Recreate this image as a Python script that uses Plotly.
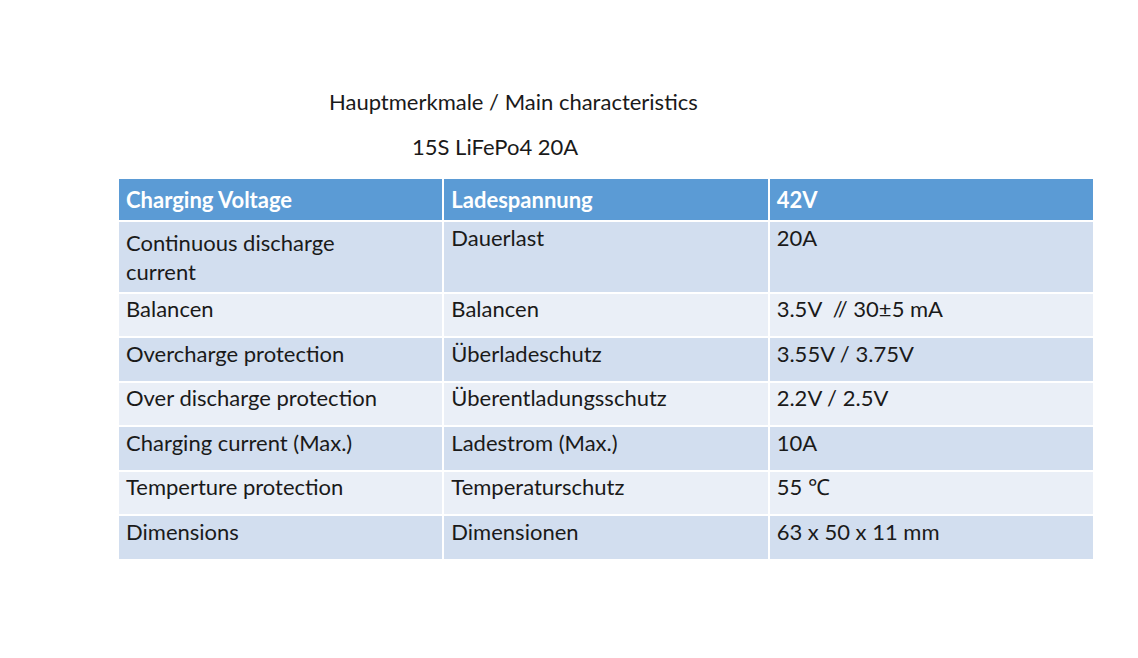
import plotly.graph_objects as go

header = ["Charging Voltage", "Ladespannung", "42V"]
col_en = ["Continuous discharge<br>current", "Balancen", "Overcharge protection",
          "Over discharge protection", "Charging current (Max.)",
          "Temperture protection", "Dimensions"]
col_de = ["Dauerlast", "Balancen", "Überladeschutz", "Überentladungsschutz",
          "Ladestrom (Max.)", "Temperaturschutz", "Dimensionen"]
col_val = ["20A", "3.5V  // 30±5 mA", "3.55V / 3.75V", "2.2V / 2.5V",
           "10A", "55 ℃", "63 x 50 x 11 mm"]

row_colors = ["#D2DEEF" if i % 2 == 0 else "#EAEFF7" for i in range(len(col_en))]
FONT = "Lato, Open Sans, sans-serif"

fig = go.Figure(go.Table(
    domain=dict(x=[110 / 1138, 1086 / 1138], y=[0, 1 - 170 / 658]),
    columnwidth=[1, 1, 1],
    header=dict(
        values=[f"<b>{h}</b>" for h in header],
        fill_color="#5B9BD5",
        line=dict(color="white", width=2),
        font=dict(family=FONT, size=22, color="white"),
        align="left", height=42,
    ),
    cells=dict(
        values=[col_en, col_de, col_val],
        fill_color=[row_colors] * 3,
        line=dict(color="white", width=2),
        font=dict(family=FONT, size=22, color="#1a1a1a"),
        align="left", height=44.5,
    ),
))

fig.add_annotation(text="Hauptmerkmale / Main characteristics", x=505 / 1138, y=1 - 78 / 658,
                   xref="paper", yref="paper", showarrow=False,
                   font=dict(family=FONT, size=22, color="#1a1a1a"))
fig.add_annotation(text="15S LiFePo4 20A", x=487 / 1138, y=1 - 123 / 658,
                   xref="paper", yref="paper", showarrow=False,
                   font=dict(family=FONT, size=22, color="#1a1a1a"))

fig.update_layout(width=1138, height=658, margin=dict(l=0, r=0, t=0, b=0),
                  paper_bgcolor="white", plot_bgcolor="white")
fig.write_html("out.html")
